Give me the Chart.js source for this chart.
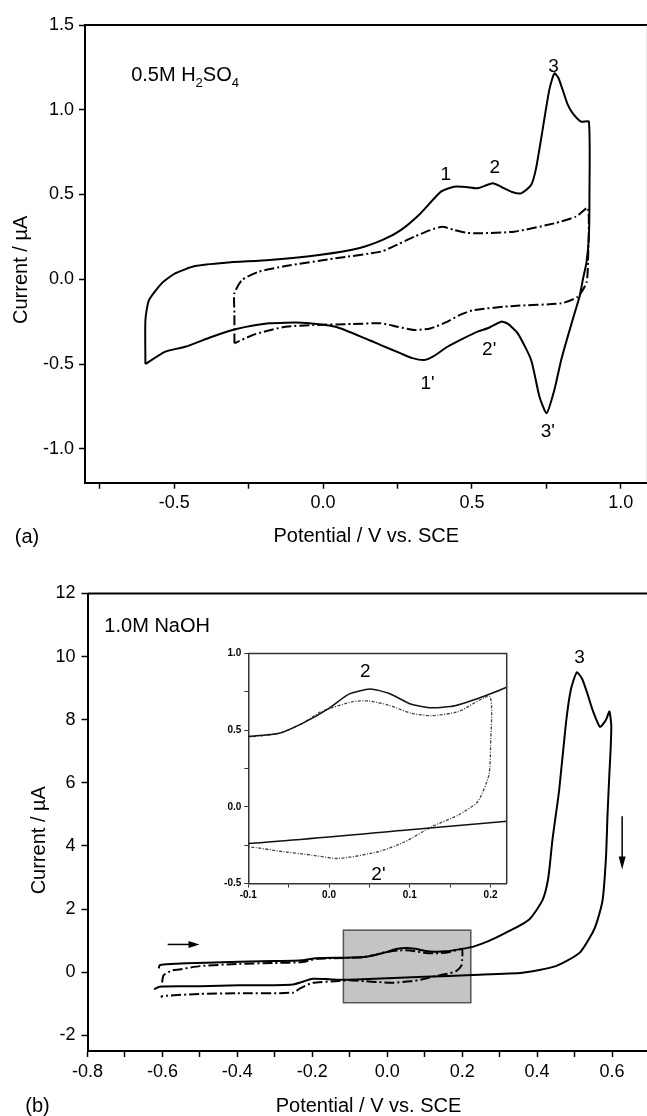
<!DOCTYPE html>
<html><head><meta charset="utf-8">
<script src="https://cdn.jsdelivr.net/npm/chart.js@4.4.1/dist/chart.umd.min.js"></script>
<style>
html,body{margin:0;padding:0;background:#fff;overflow:hidden;width:647px;height:1116px;}
#wrap{position:relative;width:647px;height:1116px;overflow:hidden;background:#fff;}
canvas{position:absolute;}
</style></head><body>
<div id="wrap">
<canvas id="ca" width="660" height="560" style="left:0;top:0"></canvas>
<canvas id="cb" width="660" height="556" style="left:0;top:560px"></canvas>
<canvas id="ci" width="320" height="270" style="left:200px;top:640px"></canvas>
</div>
<script>
const FONT = "'Liberation Sans', Arial, Helvetica, sans-serif";

// ---------- (a) 0.5M H2SO4 : [potential V, current uA] ----------
const aCycleSolid = [[-0.597,-0.50],[-0.597,-0.24],[-0.585,-0.123],[-0.54,-0.02],[-0.497,0.035],[-0.43,0.078],[-0.328,0.098],[-0.18,0.114],[-0.014,0.143],[0.12,0.183],[0.2,0.232],[0.261,0.29],[0.328,0.39],[0.396,0.517],[0.44,0.546],[0.48,0.545],[0.519,0.537],[0.57,0.566],[0.598,0.546],[0.635,0.515],[0.665,0.507],[0.699,0.556],[0.715,0.65],[0.732,0.822],[0.76,1.117],[0.777,1.215],[0.79,1.19],[0.805,1.117],[0.822,1.03],[0.839,0.979],[0.867,0.93],[0.893,0.93],[0.895,0.5],[0.893,0.25],[0.885,0.1],[0.873,0.0],[0.862,-0.1],[0.845,-0.2],[0.82,-0.35],[0.8,-0.476],[0.777,-0.653],[0.751,-0.79],[0.727,-0.693],[0.699,-0.476],[0.654,-0.319],[0.62,-0.262],[0.598,-0.25],[0.553,-0.289],[0.519,-0.309],[0.47,-0.35],[0.418,-0.398],[0.37,-0.455],[0.34,-0.476],[0.3,-0.465],[0.261,-0.437],[0.194,-0.388],[0.154,-0.358],[0.042,-0.28],[-0.07,-0.256],[-0.182,-0.26],[-0.295,-0.295],[-0.373,-0.339],[-0.463,-0.398],[-0.53,-0.427],[-0.597,-0.50]];
const aCycleDash = [[-0.298,-0.378],[-0.298,-0.2],[-0.298,-0.083],[-0.272,-0.004],[-0.216,0.045],[-0.126,0.078],[0.042,0.124],[0.194,0.163],[0.25,0.205],[0.306,0.251],[0.36,0.29],[0.401,0.31],[0.44,0.291],[0.48,0.275],[0.519,0.271],[0.642,0.281],[0.777,0.33],[0.85,0.37],[0.89,0.42],[0.89,0.1],[0.885,-0.02],[0.856,-0.103],[0.8,-0.142],[0.642,-0.157],[0.508,-0.181],[0.46,-0.21],[0.418,-0.25],[0.36,-0.29],[0.306,-0.299],[0.25,-0.28],[0.194,-0.26],[0.098,-0.264],[-0.036,-0.27],[-0.126,-0.28],[-0.2,-0.31],[-0.238,-0.33],[-0.298,-0.378]];
const aXMajor = [-0.5, 0.0, 0.5, 1.0];
const aXMinor = [-0.75, -0.25, 0.25, 0.75];
const aYMajor = [-1.0, -0.5, 0.0, 0.5, 1.0, 1.5];
const aPeakLabels = [{t:'1',v:0.412,i:0.615},{t:'2',v:0.577,i:0.655},{t:'3',v:0.774,i:1.254},{t:"1'",v:0.351,i:-0.614},{t:"2'",v:0.558,i:-0.417},{t:"3'",v:0.755,i:-0.899}];

// ---------- (b) 1.0M NaOH : [potential V, current uA] ----------
const bCycleSolid = [[-0.61,0.12],[-0.607,0.22],[-0.59,0.25],[-0.484,0.30],[-0.306,0.35],[-0.226,0.38],[-0.19,0.44],[-0.11,0.456],[-0.062,0.479],[-0.033,0.544],[0.0,0.642],[0.024,0.733],[0.051,0.768],[0.074,0.74],[0.102,0.668],[0.127,0.646],[0.156,0.659],[0.196,0.729],[0.228,0.8],[0.27,0.98],[0.317,1.25],[0.379,1.67],[0.415,2.3],[0.43,3.0],[0.441,4.2],[0.459,5.78],[0.477,7.89],[0.49,8.95],[0.506,9.5],[0.52,9.3],[0.535,8.8],[0.548,8.31],[0.568,7.77],[0.584,8.0],[0.593,8.26],[0.598,7.8],[0.596,7.0],[0.593,6.31],[0.588,5.0],[0.584,3.67],[0.575,2.3],[0.56,1.6],[0.548,1.25],[0.513,0.61],[0.45,0.19],[0.361,-0.02],[0.228,-0.09],[0.1,-0.15],[-0.1,-0.24],[-0.15,-0.23],[-0.199,-0.21],[-0.252,-0.39],[-0.395,-0.42],[-0.5,-0.45],[-0.608,-0.46],[-0.622,-0.55]];
const bCycleDash = [[-0.601,-0.33],[-0.597,-0.1],[-0.575,0.05],[-0.555,0.085],[-0.5,0.19],[-0.4,0.26],[-0.3,0.29],[-0.226,0.32],[-0.19,0.42],[-0.11,0.45],[-0.062,0.479],[-0.033,0.544],[-0.01,0.62],[0.029,0.685],[0.049,0.69],[0.074,0.663],[0.102,0.609],[0.127,0.594],[0.16,0.62],[0.199,0.718],[0.2,0.4],[0.198,0.207],[0.184,0.033],[0.16,-0.054],[0.127,-0.13],[0.094,-0.228],[0.061,-0.293],[0.012,-0.337],[-0.021,-0.315],[-0.062,-0.289],[-0.1,-0.261],[-0.128,-0.28],[-0.199,-0.34],[-0.23,-0.5],[-0.252,-0.65],[-0.4,-0.67],[-0.5,-0.69],[-0.6,-0.76],[-0.604,-0.8]];
const bXMajor = [-0.8, -0.6, -0.4, -0.2, 0.0, 0.2, 0.4, 0.6];
const bXMinor = [-0.7, -0.5, -0.3, -0.1, 0.1, 0.3, 0.5];
const bYMajor = [-2, 0, 2, 4, 6, 8, 10, 12];
const bZoomBox = [-0.117, 0.223, -0.97, 1.33];
const bArrowScan = [-0.586, 0.877, -0.501, 0.877];
const bArrowDown = [0.627, 4.94, 0.627, 3.25];
const bPeakLabels = [{t:'3',v:0.513,i:9.95}];

// ---------- inset ----------
const iXMajor = [-0.1, 0.0, 0.1, 0.2];
const iXMinor = [-0.05, 0.05, 0.15];
const iYMajor = [-0.5, 0.0, 0.5, 1.0];
const iYMinor = [-0.25, 0.25, 0.75];
const iPeakLabels = [{t:'2',v:0.0449,i:0.88},{t:"2'",v:0.0612,i:-0.446}];

const toPts = arr => arr.map(p => ({x:p[0], y:p[1]}));

function makeScale(o){
  const all = o.major.concat(o.minor||[]).sort((a,b)=>a-b);
  return {
    type:'linear', min:o.min, max:o.max,
    afterBuildTicks: s => { s.ticks = all.map(v=>({value:v})); },
    afterFit: s => { if (o.w!=null) s.width = o.w; if (o.h!=null) s.height = o.h; },
    ticks:{ autoSkip:false, maxRotation:0, minRotation:0, padding:o.pad, color:'#000',
      font:{family:FONT, size:o.fs, weight:o.fw||'normal'},
      callback: v => o.major.some(m=>Math.abs(m-v)<1e-9) ? o.fmt(v) : '' },
    grid:{ drawOnChartArea:false, drawTicks:true, tickLength:o.tl, tickWidth:o.tw, tickColor:o.col||'#000', color:o.col||'#000' },
    border:{ display:true, color:o.col||'#000', width:o.bw },
    title:{display:false}
  };
}

function txt(ctx, s, x, y, size, align, base, rot, weight){
  ctx.save();
  ctx.translate(x,y);
  if (rot) ctx.rotate(rot);
  ctx.font = (weight||'normal') + ' ' + size + 'px ' + FONT;
  ctx.fillStyle = '#000';
  ctx.textAlign = align||'center';
  ctx.textBaseline = base||'middle';
  ctx.fillText(s,0,0);
  ctx.restore();
}

function arrow(ctx, x1,y1,x2,y2, head, hw){
  const a = Math.atan2(y2-y1, x2-x1);
  ctx.save();
  ctx.strokeStyle='#000'; ctx.fillStyle='#000'; ctx.lineWidth=1.5;
  ctx.beginPath(); ctx.moveTo(x1,y1);
  ctx.lineTo(x2 - Math.cos(a)*head*0.6, y2 - Math.sin(a)*head*0.6); ctx.stroke();
  ctx.translate(x2,y2); ctx.rotate(a);
  ctx.beginPath(); ctx.moveTo(0,0); ctx.lineTo(-head,-hw); ctx.lineTo(-head,hw); ctx.closePath(); ctx.fill();
  ctx.restore();
}

const lineDs = (data, dash, width, color) => ({
  data, showLine:true, borderColor:color||'#000', borderWidth:width||2, borderDash:dash||[],
  pointRadius:0, pointHoverRadius:0, tension:0.2, fill:false
});

const baseOpts = {
  responsive:false, animation:false, events:[],
  plugins:{ legend:{display:false}, tooltip:{enabled:false} }
};

// ---------- Chart (a) ----------
new Chart(document.getElementById('ca'), {
  type:'scatter',
  data:{ datasets:[ lineDs(toPts(aCycleSolid)), lineDs(toPts(aCycleDash), [10,3,2,3]) ] },
  options:Object.assign({}, baseOpts, {
    layout:{ padding:{ top:25, right:12.5, left:0, bottom:0 } },
    scales:{
      x: makeScale({min:-0.8, max:1.09, major:aXMajor, minor:aXMinor, fmt:v=>v.toFixed(1), fs:18, pad:4, tl:6, tw:1.5, bw:2, h:77.3}),
      y: makeScale({min:-1.2, max:1.5, major:aYMajor, fmt:v=>v.toFixed(1), fs:18, pad:5, tl:6, tw:1.5, bw:2, w:85})
    }
  }),
  plugins:[{ id:'annA', afterDraw(chart){
    const ctx = chart.ctx, xs = chart.scales.x, ys = chart.scales.y, ca = chart.chartArea;
    ctx.save(); ctx.strokeStyle='#000'; ctx.lineWidth=2;
    ctx.beginPath(); ctx.moveTo(ca.left, ca.top); ctx.lineTo(ca.right+3, ca.top); ctx.stroke();
    ctx.strokeStyle='#aaa'; ctx.lineWidth=1.5;
    ctx.beginPath(); ctx.moveTo(ca.right, ca.top); ctx.lineTo(ca.right, ca.bottom); ctx.stroke();
    ctx.restore();
    aPeakLabels.forEach(l => txt(ctx, l.t, xs.getPixelForValue(l.v), ys.getPixelForValue(l.i), 19));
    let x = xs.getPixelForValue(-0.645), y = ys.getPixelForValue(1.1717);
    const parts = [['0.5M H',20,0],['2',13,6],['SO',20,0],['4',13,6]];
    parts.forEach(p => { ctx.font = p[1]+'px '+FONT; txt(ctx, p[0], x, y+p[2], p[1], 'left', 'alphabetic'); x += ctx.measureText(p[0]).width; });
    txt(ctx, 'Potential / V vs. SCE', (ca.left+ca.right)/2, ca.bottom+54, 20);
    txt(ctx, '(a)', 27, ca.bottom+55, 20);
    txt(ctx, 'Current / µA', 21, (ca.top+ca.bottom)/2+16, 20, 'center', 'middle', -Math.PI/2);
  }}]
});

// ---------- Chart (b) ----------
new Chart(document.getElementById('cb'), {
  type:'scatter',
  data:{ datasets:[ lineDs(toPts(bCycleSolid)), lineDs(toPts(bCycleDash), [10,3,2,3]) ] },
  options:Object.assign({}, baseOpts, {
    layout:{ padding:{ top:33.5, right:10.5, left:0, bottom:0 } },
    scales:{
      x: makeScale({min:-0.8, max:0.7, major:bXMajor, minor:bXMinor, fmt:v=>v.toFixed(1), fs:18, pad:4, tl:6, tw:1.5, bw:2, h:65}),
      y: makeScale({min:-2.5, max:12, major:bYMajor, fmt:v=>String(Math.round(v)), fs:18, pad:6, tl:6, tw:1.5, bw:2, w:87.5})
    }
  }),
  plugins:[{ id:'annB',
    beforeDatasetsDraw(chart){
      const ctx = chart.ctx, xs = chart.scales.x, ys = chart.scales.y;
      const x1 = xs.getPixelForValue(bZoomBox[0]), x2 = xs.getPixelForValue(bZoomBox[1]);
      const y1 = ys.getPixelForValue(bZoomBox[3]), y2 = ys.getPixelForValue(bZoomBox[2]);
      ctx.save(); ctx.fillStyle='#c4c4c4'; ctx.fillRect(x1,y1,x2-x1,y2-y1);
      ctx.strokeStyle='#555'; ctx.lineWidth=1.5; ctx.strokeRect(x1,y1,x2-x1,y2-y1); ctx.restore();
    },
    afterDraw(chart){
      const ctx = chart.ctx, xs = chart.scales.x, ys = chart.scales.y, ca = chart.chartArea;
      ctx.save(); ctx.strokeStyle='#000'; ctx.lineWidth=2;
      ctx.beginPath(); ctx.moveTo(ca.left, ca.top); ctx.lineTo(ca.right, ca.top); ctx.lineTo(ca.right, ca.bottom); ctx.stroke();
      ctx.restore();
      arrow(ctx, xs.getPixelForValue(bArrowScan[0]), ys.getPixelForValue(bArrowScan[1]), xs.getPixelForValue(bArrowScan[2]), ys.getPixelForValue(bArrowScan[3]), 11, 3.5);
      arrow(ctx, xs.getPixelForValue(bArrowDown[0]), ys.getPixelForValue(bArrowDown[1]), xs.getPixelForValue(bArrowDown[2]), ys.getPixelForValue(bArrowDown[3]), 13, 3.5);
      bPeakLabels.forEach(l => txt(ctx, l.t, xs.getPixelForValue(l.v), ys.getPixelForValue(l.i), 19));
      txt(ctx, '1.0M NaOH', xs.getPixelForValue(-0.755), ys.getPixelForValue(10.94), 20, 'left', 'middle');
      txt(ctx, 'Potential / V vs. SCE', (ca.left+ca.right)/2, ca.bottom+55, 20);
      txt(ctx, '(b)', 37.5, ca.bottom+55, 20);
      txt(ctx, 'Current / µA', 39, (ca.top+ca.bottom)/2+18, 20, 'center', 'middle', -Math.PI/2);
    }}]
});

// ---------- Inset ----------
new Chart(document.getElementById('ci'), {
  type:'scatter',
  data:{ datasets:[ lineDs(toPts(bCycleSolid), [], 1.5, '#111'), lineDs(toPts(bCycleDash), [3,1.5,1,1.5], 1.3, '#444') ] },
  options:Object.assign({}, baseOpts, {
    layout:{ padding:{ top:13.4, right:13.3, left:0, bottom:0 } },
    scales:{
      x: makeScale({min:-0.1, max:0.22, major:iXMajor, minor:iXMinor, fmt:v=>v.toFixed(1), fs:10, fw:'bold', pad:2, tl:4, tw:1, bw:1.5, h:26.5, col:'#333'}),
      y: makeScale({min:-0.5, max:1.0, major:iYMajor, minor:iYMinor, fmt:v=>v.toFixed(1), fs:10, fw:'bold', pad:3, tl:4, tw:1, bw:1.5, w:48.3, col:'#333'})
    }
  }),
  plugins:[{ id:'annI', afterDraw(chart){
    const ctx = chart.ctx, xs = chart.scales.x, ys = chart.scales.y, ca = chart.chartArea;
    ctx.save(); ctx.strokeStyle='#333'; ctx.lineWidth=1.5;
    ctx.beginPath(); ctx.moveTo(ca.left, ca.top); ctx.lineTo(ca.right, ca.top); ctx.lineTo(ca.right, ca.bottom); ctx.stroke();
    ctx.restore();
    iPeakLabels.forEach(l => txt(ctx, l.t, xs.getPixelForValue(l.v), ys.getPixelForValue(l.i), 19));
  }}]
});
</script>
</body></html>
